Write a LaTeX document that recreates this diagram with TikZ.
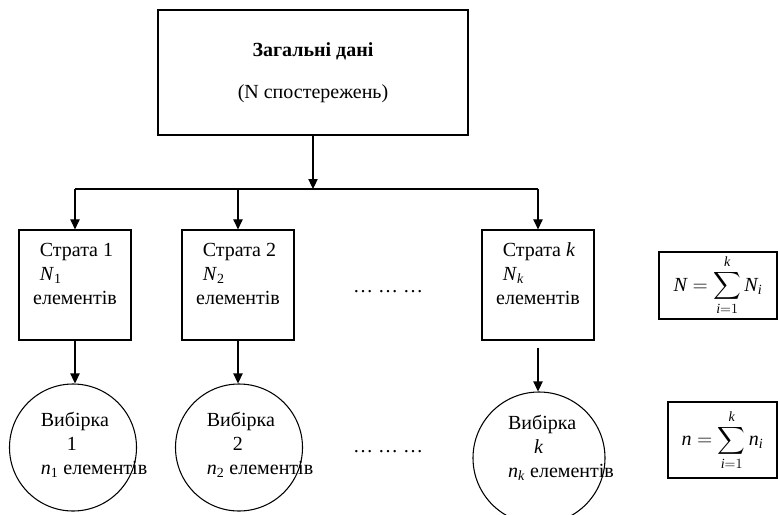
\documentclass[tikz,border=0pt]{standalone}
\usepackage{fix-cm}
\usepackage{amsmath}
\usepackage{fontspec}
\setmainfont{Liberation Serif}
\usetikzlibrary{arrows.meta}

\tikzstyle{box} = [draw, line width=0.9pt, rectangle, inner sep=0pt]
\tikzstyle{arr} = [-{Triangle[length=7.5pt,width=7pt]}, line width=0.8pt]

\begin{document}
\begin{tikzpicture}[x=0.75pt,y=-0.75pt,
		font=\fontsize{15}{18}\selectfont,
		stratum/.style={box, minimum width=84pt, minimum height=82.5pt},
		sample/.style={draw, circle, line width=0.8pt, inner sep=0pt, minimum size=95.25pt},
		stext/.style={align=left, yshift=8.25pt},
		vtext/.style={align=left, xshift=15.75pt, yshift=2.25pt}]
		\clip (0,0) rectangle (778,514);
		\node (all) [box, minimum width=232.5pt, minimum height=93.75pt, align=center] at (313,72.5)
			{\textbf{Загальні дані}\\[13.5pt](N спостережень)};
		\coordinate (hub) at (313,189);
		\node (s1) [stratum, label={[stext]center:{\hspace*{5pt}Страта 1\\\hspace*{5pt}\textit{N}\textsubscript{1}\\елементів}}] at (75,285) {};
		\node (s2) [stratum, label={[stext]center:{\hspace*{5pt}Страта 2\\\hspace*{5pt}\textit{N}\textsubscript{2}\\елементів}}] at (238,285) {};
		\node (sk) [stratum, label={[stext]center:{\hspace*{5pt}Страта \textit{k}\\\hspace*{5pt}\textit{N}\textsubscript{\textit{k}}\\елементів}}] at (538,285) {};
		\node (dots1) at (388,292) {… … …};
		\node (Nsum) [box, minimum width=88.5pt, minimum height=50.25pt] at (718,285.5)
			{$\displaystyle \textit{N} = \sum_{\textit{i}=1}^{\textit{k}} \textit{N}_{\textit{i}}$};
		\node (v1) [sample, label={[vtext]center:{Вибірка\\\hspace*{1.3em}1\\\textit{n}\textsubscript{1} елементів}}] at (73,447.5) {};
		\node (v2) [sample, label={[vtext]center:{Вибірка\\\hspace*{1.3em}2\\\textit{n}\textsubscript{2} елементів}}] at (239,447.5) {};
		\node (vk) [sample, minimum size=99pt, label={[vtext, xshift=0.75pt, yshift=5.25pt]center:{Вибірка\\\hspace*{1.3em}\textit{k}\\\textit{n}\textsubscript{\textit{k}} елементів}}] at (539,458) {};
		\node (dots2) at (388,452) {… … …};
		\node (nsum) [box, minimum width=81.75pt, minimum height=57pt] at (722.5,440)
			{$\displaystyle \textit{n} = \sum_{\textit{i}=1}^{\textit{k}} \textit{n}_{\textit{i}}$};
		\draw [arr] (all.south) -- (hub);
		\draw [line width=0.8pt] (s1.north |- hub) -- (sk.north |- hub);
		\foreach \s in {s1,s2,sk}
			\draw [arr] (\s.north |- hub) -- (\s.north);
		\draw [arr] (s1.south) -- (s1.south |- v1.north);
		\draw [arr] (s2.south) -- (s2.south |- v2.north);
		\draw [arr, shorten <=5.25pt] (sk.south) -- (sk.south |- vk.north);
	\end{tikzpicture}
\end{document}
